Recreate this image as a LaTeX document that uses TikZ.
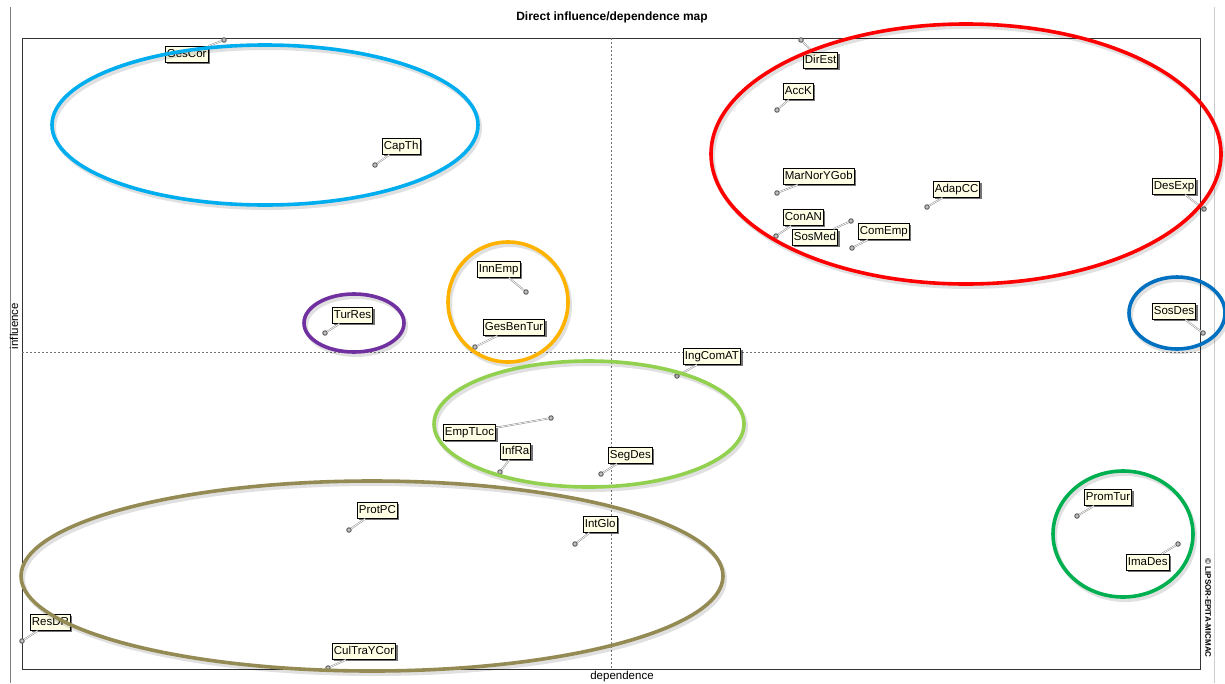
\documentclass[tikz,border=0pt]{standalone}
\usepackage{fontspec}
\setmainfont{Liberation Sans}
\usetikzlibrary{shadows}
\definecolor{lblfill}{HTML}{FFFFE6}
\definecolor{cskyblue}{HTML}{00AEEF}
\definecolor{cred}{HTML}{FF0000}
\definecolor{corange}{HTML}{FFB300}
\definecolor{cpurple}{HTML}{7030A0}
\definecolor{cblue}{HTML}{0070C0}
\definecolor{clime}{HTML}{92D050}
\definecolor{colive}{HTML}{948A54}
\definecolor{cgreen}{HTML}{00B050}
\tikzset{
  varpt/.style={circle, draw=black!65, fill=black!25, line width=0.9pt, inner sep=0pt, minimum size=4.5pt},
  varlbl/.style={draw=black, line width=0.8pt, fill=lblfill, font=\fontsize{11.5}{12}\selectfont,
    inner xsep=1.5pt, inner ysep=0pt, minimum height=16pt, text height=8.5pt, text depth=2pt,
    drop shadow={shadow xshift=2pt, shadow yshift=-2pt, fill=black, opacity=0.55}},
  varlink/.style={draw=black!45, double=white, double distance=0.7pt, line width=0.5pt},
  frameline/.style={draw=black!80, line width=1pt},
  axisline/.style={draw=black!55, line width=0.6pt, dash pattern=on 2pt off 2pt},
  groupring/.style={line width=3.6pt},
  ringshade/.style={draw=black, opacity=0.12, line width=4pt}
}
% one variable of the map: point, label box and the link between them
\newcommand\mapvar[6]{%
  \node[varpt] (p#1) at (#3,#4) {};
  \node[varlbl, anchor=north west] (#1) at (#5,#6) {#2};
  \draw[varlink] (p#1) -- (#1);
}
% a coloured group ring with a soft shadow
\newcommand\groupring[5]{%
  \draw[ringshade] ($(#2,#3)+(2,3)$) ellipse [x radius=#4pt, y radius=#5pt];
  \draw[groupring, draw=#1] (#2,#3) ellipse [x radius=#4pt, y radius=#5pt];
}
\usetikzlibrary{calc}
\begin{document}
\begin{tikzpicture}[x=1pt, y=-1pt]
\useasboundingbox (0,0) rectangle (1225,683);
\fill[white] (0,0) rectangle (1225,683);

% page rules
\coordinate (lt) at (10,7);  \coordinate (lb) at (10,683);
\coordinate (rt) at (1214,7); \coordinate (rb) at (1214,683);
\draw[black!50, line width=1pt] (lt) -- (lb);
\draw[black!20, line width=1pt] (rt) -- (rb);

% title and axis names
\node[font=\bfseries\fontsize{12}{14}\selectfont] (title) at (612,17) {Direct influence/dependence map};
\node[font=\fontsize{11.5}{12}\selectfont, rotate=90] (ylab) at (14,326) {influence};
\node[font=\fontsize{11.5}{12}\selectfont] (xlab) at (622,677) {dependence};
\node[font=\bfseries\fontsize{8}{9}\selectfont, rotate=-90] (copy) at (1208,608) {© LIPSOR-EPITA-MICMAC};

% plot frame and crosshair
\coordinate (fa) at (22,38); \coordinate (fb) at (1200,669);
\draw[frameline] (fa) rectangle (fb);
\coordinate (vx1) at (611,38); \coordinate (vx2) at (611,669);
\coordinate (hy1) at (22,352); \coordinate (hy2) at (1200,352);
\draw[axisline] (vx1) -- (vx2);
\draw[axisline] (hy1) -- (hy2);

% variables
\mapvar{GesCor}{GesCor}{224}{40}{165}{46}
\mapvar{CapTh}{CapTh}{375}{165}{382}{138}
\mapvar{DirEst}{DirEst}{801}{40}{803}{52}
\mapvar{AccK}{AccK}{777}{110}{783}{83}
\mapvar{MarNorYGob}{MarNorYGob}{777}{193}{783}{168}
\mapvar{AdapCC}{AdapCC}{927}{207}{933}{181}
\mapvar{DesExp}{DesExp}{1204}{209}{1152}{178}
\mapvar{ConAN}{ConAN}{776}{236}{783}{209}
\mapvar{SosMed}{SosMed}{851}{221}{792}{229}
\mapvar{ComEmp}{ComEmp}{852}{248}{858}{223}
\mapvar{InnEmp}{InnEmp}{526}{292}{477}{261}
\mapvar{TurRes}{TurRes}{325}{333}{332}{307}
\mapvar{GesBenTur}{GesBenTur}{475}{347}{483}{319}
\mapvar{SosDes}{SosDes}{1203}{333}{1152}{303}
\mapvar{IngComAT}{IngComAT}{677}{376}{683}{348}
\mapvar{EmpTLoc}{EmpTLoc}{551}{418}{443}{424}
\mapvar{InfRa}{InfRa}{500}{472}{500}{443}
\mapvar{SegDes}{SegDes}{601}{474}{608}{447}
\mapvar{ProtPC}{ProtPC}{349}{530}{357}{502}
\mapvar{IntGlo}{IntGlo}{575}{544}{583}{516}
\mapvar{PromTur}{PromTur}{1077}{516}{1084}{489}
\mapvar{ImaDes}{ImaDes}{1178}{544}{1126}{554}
\mapvar{ResDR}{ResDR}{22}{641}{30}{614}
\mapvar{CulTraYCor}{CulTraYCor}{328}{668}{332}{643}

% group rings
\groupring{cskyblue}{265}{125}{213}{80}
\groupring{cred}{966}{154}{255}{130}
\groupring{corange}{508}{302}{60}{60}
\groupring{cpurple}{354}{323}{50}{29}
\groupring{cblue}{1177}{313}{48}{36}
\groupring{clime}{589}{424}{155}{63}
\groupring{colive}{372}{576}{351}{95}
\groupring{cgreen}{1123}{534}{70}{63}
\end{tikzpicture}
\end{document}
